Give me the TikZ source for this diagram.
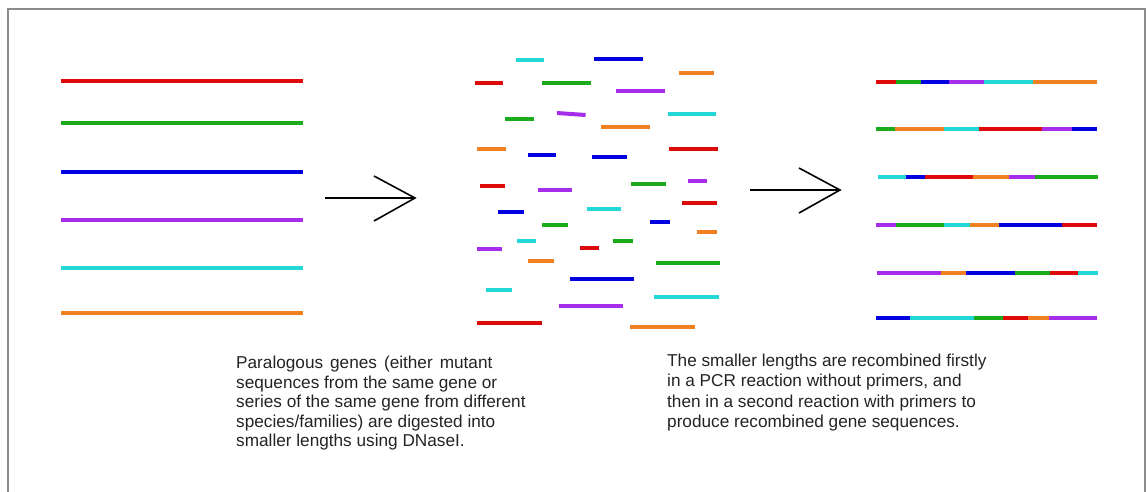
\documentclass[tikz,border=0pt]{standalone}
\usepackage{fontspec}
\setmainfont{Liberation Sans}
\definecolor{gred}{RGB}{222,10,10}
\definecolor{ggreen}{RGB}{26,170,26}
\definecolor{gblue}{RGB}{0,0,225}
\definecolor{gpurple}{RGB}{165,45,235}
\definecolor{gcyan}{RGB}{35,215,215}
\definecolor{gorange}{RGB}{240,128,32}
\definecolor{frame}{RGB}{140,140,140}
\definecolor{txt}{RGB}{35,35,35}
\begin{document}
\begin{tikzpicture}[x=1pt,y=-1pt,
  seg/.style={line width=4pt},
  arr/.style={line width=1.6pt, black},
  caption/.style={anchor=north west, align=left, inner sep=0pt, text=txt,
    font=\fontsize{17.2}{19.5}\selectfont}]
\useasboundingbox (0,0) rectangle (1146,492);
\draw[frame, line width=1.5pt] (8,492) -- (8,9) -- (1145,9) -- (1145,492);

% original genes
\foreach \c/\y in {gred/80.7, ggreen/123, gblue/172, gpurple/219.7, gcyan/267.7, gorange/313}
  \draw[seg,\c] (61,\y) -- (303,\y);

% arrows
\coordinate (a1s) at (325,198); \coordinate (a1t) at (415,198);
\coordinate (a1u) at (374,176); \coordinate (a1d) at (374,221);
\draw[arr] (a1s) -- (a1t); \draw[arr] (a1u) -- (a1t) -- (a1d);
\coordinate (a2s) at (750,190); \coordinate (a2t) at (840,190);
\coordinate (a2u) at (799,168); \coordinate (a2d) at (799,213);
\draw[arr] (a2s) -- (a2t); \draw[arr] (a2u) -- (a2t) -- (a2d);

% fragments
\foreach \c/\xa/\xb/\y in {
  gcyan/515.7/544.4/59.6, gblue/594.3/642.9/59.2, gorange/678.7/713.8/73,
  gred/474.5/503.2/83.5, ggreen/542.3/591/83.2, gpurple/616.3/665.2/91.3,
  ggreen/504.9/533.6/119, gcyan/667.6/716.2/113.9, gorange/601.4/650.4/126.7,
  gorange/477.2/505.9/148.7, gblue/527.5/556.2/154.7, gblue/592.3/627.4/156.8,
  gred/668.9/717.5/149.4, gred/479.6/504.9/186, gpurple/537.6/572/189.6,
  ggreen/631/665.9/184, gpurple/687.5/706.7/180.5, gred/681.7/716.8/202.7,
  gblue/498.1/523.8/212.2, gcyan/586.6/621.3/209.1, ggreen/542.3/568/224.7,
  gblue/649.7/669.6/222, gorange/697.3/716.8/232.4, gcyan/516.7/535.9/241.2,
  gpurple/476.9/502.2/249, gred/579.8/599/248.3, ggreen/613.2/632.8/240.5,
  gorange/528.2/553.5/261.1, ggreen/655.7/720.2/262.8, gblue/570/633.8/279.3,
  gcyan/486/511.6/289.5, gcyan/654/718.5/296.9, gpurple/558.9/623.4/306,
  gred/477.2/541.7/322.5, gorange/630.4/694.6/327.3}
  \draw[seg,\c] (\xa,\y) -- (\xb,\y);
\draw[seg,gpurple] (556.9,113) -- (585.6,115);

% recombined genes
\foreach \y/\list in {
  81.7/{gred/876/895.7, ggreen/895.7/921, gblue/921/949, gpurple/949/984, gcyan/984/1032.7, gorange/1032.7/1096.7},
  129.3/{ggreen/876/895.3, gorange/895.3/943.7, gcyan/943.7/978.7, gred/978.7/1041.7, gpurple/1041.7/1072, gblue/1072/1096.7},
  177.3/{gcyan/877.7/906, gblue/906/925.3, gred/925.3/973.3, gorange/973.3/1008.7, gpurple/1008.7/1035, ggreen/1035/1097.7},
  224.7/{gpurple/876/896, ggreen/896/944, gcyan/944/970, gorange/970/999, gblue/999/1062.3, gred/1062.3/1097.3},
  272.7/{gpurple/877/940.7, gorange/940.7/966.3, gblue/966.3/1015.3, ggreen/1015.3/1050, gred/1050/1078.3, gcyan/1078.3/1098},
  317.7/{gblue/876/910, gcyan/910/974, ggreen/974/1003.3, gred/1003.3/1028.3, gorange/1028.3/1049, gpurple/1049/1097}}
  \foreach \c/\xa/\xb in \list
    \draw[seg,\c] (\xa,\y) -- (\xb,\y);

% captions
\node[caption] (t1) at (236,356) {Paralogous\hspace{7pt}genes\hspace{7pt}(either\hspace{7pt}mutant\\
sequences from the same gene or\\
series of the same gene from different\\
species/families) are digested into\\
smaller lengths using DNaseI.};
\node[caption, font=\fontsize{17.2}{20.3}\selectfont] (t2) at (667,354) {The smaller lengths are recombined firstly\\
in a PCR reaction without primers, and\\
then in a second reaction with primers to\\
produce recombined gene sequences.};
\end{tikzpicture}
\end{document}
